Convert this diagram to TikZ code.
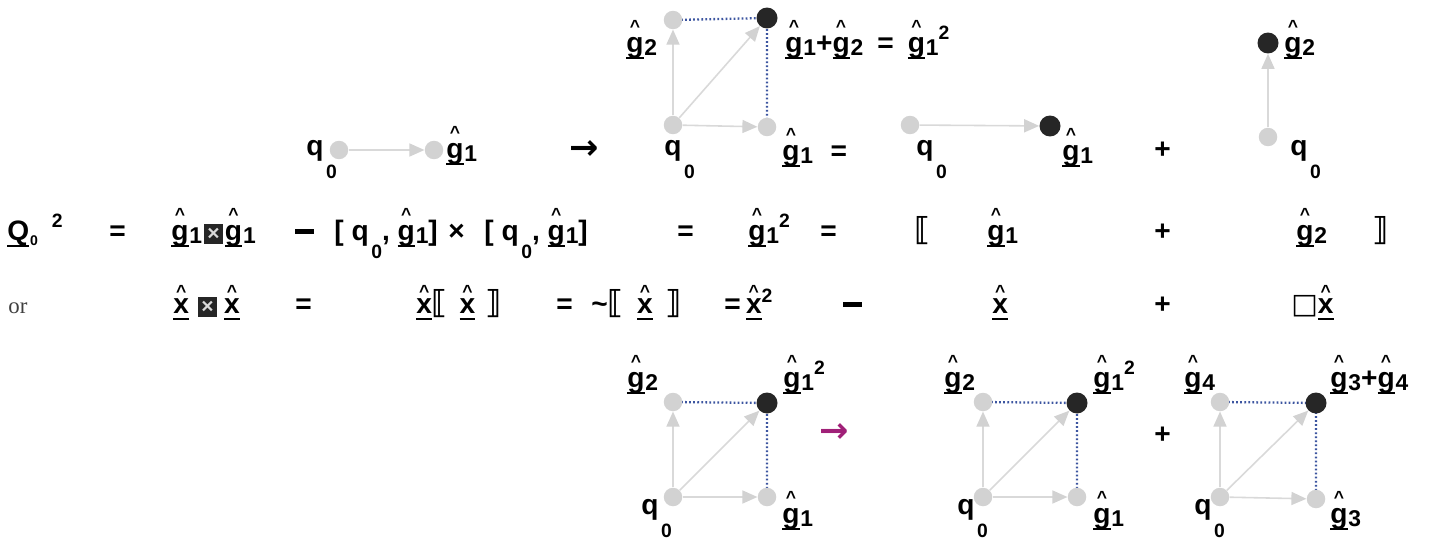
\documentclass[tikz,border=0pt]{standalone}
\usepackage{fontspec}
\setmainfont{Liberation Sans}
\newfontfamily\serifont{Liberation Serif}
\newfontfamily\symfont{DejaVu Sans}
\usetikzlibrary{arrows.meta,backgrounds}
\definecolor{plum}{RGB}{160,32,120}
\definecolor{projblue}{RGB}{60,85,160}

\newsavebox\hatbox
\newsavebox\ulbox
\newcommand{\ul}[1]{\sbox\ulbox{#1}\rlap{\rule[-4pt]{\wd\ulbox}{1pt}}\usebox\ulbox}
\newcommand{\hatop}[2][11pt]{\sbox\hatbox{#2}\rlap{\makebox[\wd\hatbox]{\raisebox{#1}{\fontsize{10}{10}\selectfont\textasciicircum}}}\usebox\hatbox}
\newcommand{\gh}[1]{\hatop{\ul{g}}\kern0.5pt\raisebox{-2pt}{\fontsize{13}{13}\selectfont #1}}
\newcommand{\xh}{\hatop[9pt]{\ul{x}}}
\newcommand{\sq}{\raisebox{7pt}{\fontsize{11}{11}\selectfont 2}}
\newcommand{\qz}[1][0.85em]{q\kern1.5pt\raisebox{-#1}{\fontsize{11}{11}\selectfont 0}}
\newcommand{\bxt}{{\setlength{\fboxsep}{2pt}\colorbox{black!85}{\textcolor{white!85!black}{\fontsize{12}{12}\selectfont ×}}}}
\newcommand{\dlbr}{{\symfont\fontsize{18}{18}\selectfont ⟦}}
\newcommand{\drbr}{{\symfont\fontsize{18}{18}\selectfont ⟧}}
\newcommand{\tbar}{\rule[0.2em]{0.65em}{0.18em}}

\begin{document}
\begin{tikzpicture}[x=0.02cm, y=-0.02cm,
    dot/.style={circle, fill=gray!35, minimum size=0.37cm, inner sep=0pt},
    bdot/.style={circle, fill=black!85, minimum size=0.42cm, inner sep=0pt},
    vec/.style={draw=gray!30, line width=0.9pt, -{Triangle[length=0.3cm, width=0.26cm, color=gray!35]}},
    proj/.style={draw=projblue, dash pattern=on 1pt off 1.3pt, line width=1.3pt},
    lbl/.style={font=\fontsize{16}{18}\selectfont\bfseries, inner sep=0pt, anchor=base west},
    maparrow/.style={font=\symfont\bfseries\fontsize{20}{20}\selectfont, inner sep=0pt}
]
\begin{scope}[on background layer]
    \fill[white] (0,0) rectangle (1444,541);
\end{scope}
\useasboundingbox (0,0) rectangle (1444,541);

% --- top row: q0 -> g1 ---
\node[dot] (s0) at (339,150) {};
\node[dot] (s1) at (434,150) {};
\draw[vec] (s0) -- (s1);
\node[lbl] (s0l) at (306,155) {\qz};
\node[lbl] (s1l) at (446,158) {\gh{1}};

\node[maparrow] (map1) at (584,150) {→};

% square of g1 and g2
\node[dot] (a0) at (673,125) {};
\node[dot] (a1) at (767,127) {};
\node[dot] (a2) at (673,20) {};
\node[bdot] (a3) at (767,18) {};
\begin{scope}[on background layer]
    \draw[proj] (a2.center) -- (a3.center) -- (a1.center);
\end{scope}
\draw[vec] (a0) -- (a1);
\draw[vec] (a0) -- (a2);
\draw[vec] (a0) -- (a3);
\node[lbl] (a2l) at (626,52) {\gh{2}};
\node[lbl] (a3l) at (785,52) {\gh{1}+\gh{2}\hspace{8pt}=\hspace{8pt}\gh{1}\sq};
\node[lbl] (a0l) at (664,155) {\qz};
\node[lbl] (a1l) at (782,160) {\gh{1}\hspace{10pt}=};

% q0 -> g1 (horizontal part)
\node[dot] (b0) at (910,125) {};
\node[bdot] (b1) at (1050,126) {};
\draw[vec] (b0) -- (b1);
\node[lbl] (b0l) at (916,155) {\qz};
\node[lbl] (b1l) at (1062,160) {\gh{1}};
\node[lbl] (plus1) at (1154,158) {+};

% q0 -> g2 (vertical part)
\node[dot] (c0) at (1268,137) {};
\node[bdot] (c1) at (1268,43) {};
\draw[vec] (c0) -- (c1);
\node[lbl] (c1l) at (1284,52) {\gh{2}};
\node[lbl] (c0l) at (1290,155) {\qz};

% --- formula rows ---
\node[lbl] (Q) at (7,240) {\ul{Q}\kern0.5pt\raisebox{-3pt}{\fontsize{8}{8}\selectfont 0}\hspace{8pt}\raisebox{7pt}{\fontsize{11}{11}\selectfont 2}};
\node[lbl] (eq1) at (109,240) {=};
\node[lbl] (pr1) at (171,240) {\gh{1}\kern1pt\bxt\kern1pt\gh{1}};
\node[lbl] (eq2) at (295,240) {\tbar};
\node[lbl] (br1) at (334,240) {[ \qz[0.65em], \gh{1}]};
\node[lbl] (tm) at (448,240) {×};
\node[lbl] (br2) at (484,240) {[ \qz[0.65em], \gh{1}]};
\node[lbl] (eq3) at (677,240) {=};
\node[lbl] (sq1) at (748,240) {\gh{1}\sq};
\node[lbl] (eq4) at (820,240) {=};
\node[lbl] (lb1) at (914,240) {\dlbr};
\node[lbl] (g1) at (987,240) {\gh{1}};
\node[lbl] (plus2) at (1154,240) {+};
\node[lbl] (g2) at (1296,240) {\gh{2}};
\node[lbl] (rb1) at (1372,240) {\drbr};

\node[lbl, font=\serifont\fontsize{13}{15}\selectfont, text=black!75] (or) at (8,313) {or};
\node[lbl] (pr2) at (173,313) {\xh\hspace{5pt}\bxt\hspace{4pt}\xh};
\node[lbl] (eq5) at (295,313) {=};
\node[lbl] (xb1) at (416,313) {\xh\dlbr\hspace{7pt}\xh\hspace{6pt}\drbr};
\node[lbl] (eq6) at (556,313) {=};
\node[lbl] (xb2) at (591,313) {\textasciitilde\dlbr\hspace{8pt}\xh\hspace{7pt}\drbr};
\node[lbl] (eq7) at (724,313) {=\hspace{3pt}\xh\raisebox{6pt}{\fontsize{11}{11}\selectfont 2}};
\node[lbl] (eq8) at (843,313) {\tbar};
\node[lbl] (x1) at (992,313) {\xh};
\node[lbl] (plus3) at (1154,313) {+};
\node[lbl] (x2) at (1291,313) {{\symfont □}\xh};

% --- bottom row: squares ---
\node[dot] (d0) at (673,497) {};
\node[dot] (d1) at (767,497) {};
\node[dot] (d2) at (673,402) {};
\node[bdot] (d3) at (767,403) {};
\begin{scope}[on background layer]
    \draw[proj] (d2.center) -- (d3.center) -- (d1.center);
\end{scope}
\draw[vec] (d0) -- (d1);
\draw[vec] (d0) -- (d2);
\draw[vec] (d0) -- (d3);
\node[lbl] (d2l) at (627,387) {\gh{2}};
\node[lbl] (d3l) at (783,387) {\gh{1}\sq};
\node[lbl] (d0l) at (641,514) {\qz};
\node[lbl] (d1l) at (782,523) {\gh{1}};

\node[maparrow, text=plum] (map2) at (834,433) {→};

\node[dot] (e0) at (983,497) {};
\node[dot] (e1) at (1077,497) {};
\node[dot] (e2) at (983,402) {};
\node[bdot] (e3) at (1077,403) {};
\begin{scope}[on background layer]
    \draw[proj] (e2.center) -- (e3.center) -- (e1.center);
\end{scope}
\draw[vec] (e0) -- (e1);
\draw[vec] (e0) -- (e2);
\draw[vec] (e0) -- (e3);
\node[lbl] (e2l) at (944,387) {\gh{2}};
\node[lbl] (e3l) at (1093,387) {\gh{1}\sq};
\node[lbl] (e0l) at (957,514) {\qz};
\node[lbl] (e1l) at (1093,523) {\gh{1}};

\node[lbl] (plus4) at (1154,443) {+};

\node[dot] (f0) at (1220,497) {};
\node[dot] (f1) at (1316,499) {};
\node[dot] (f2) at (1220,402) {};
\node[bdot] (f3) at (1316,403) {};
\begin{scope}[on background layer]
    \draw[proj] (f2.center) -- (f3.center) -- (f1.center);
\end{scope}
\draw[vec] (f0) -- (f1);
\draw[vec] (f0) -- (f2);
\draw[vec] (f0) -- (f3);
\node[lbl] (f2l) at (1184,387) {\gh{4}};
\node[lbl] (f3l) at (1330,387) {\gh{3}+\gh{4}};
\node[lbl] (f0l) at (1194,514) {\qz};
\node[lbl] (f1l) at (1330,523) {\gh{3}};

\end{tikzpicture}
\end{document}
